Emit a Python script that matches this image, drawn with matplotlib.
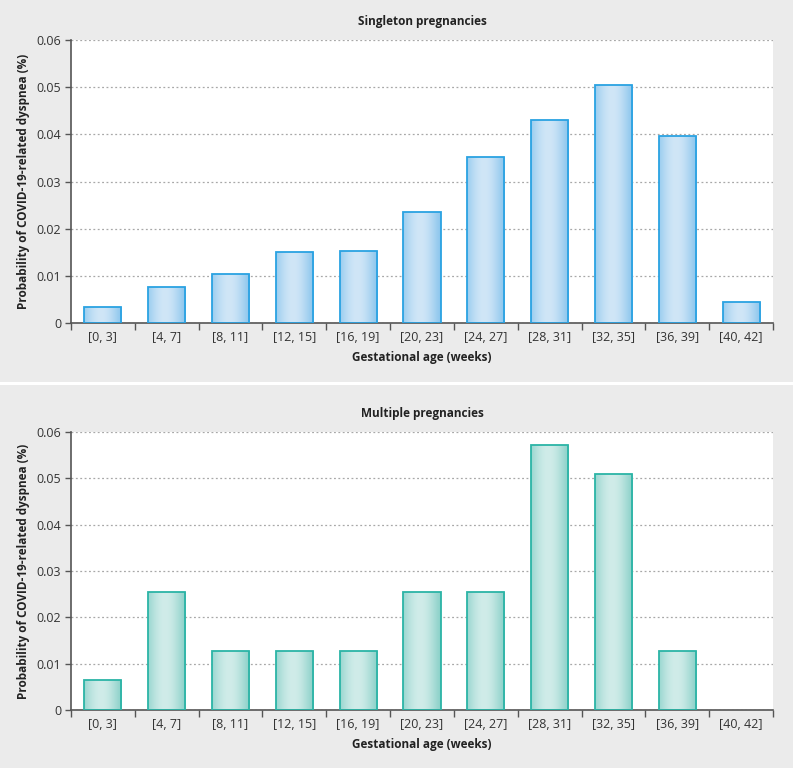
import numpy as np
import matplotlib
matplotlib.use('Agg')
import matplotlib.pyplot as plt
from matplotlib.patches import Rectangle
from matplotlib.colors import to_rgb

plt.rcParams['font.family'] = ['Open Sans', 'DejaVu Sans']

# data
weeks = ['[0, 3]', '[4, 7]', '[8, 11]', '[12, 15]', '[16, 19]', '[20, 23]',
         '[24, 27]', '[28, 31]', '[32, 35]', '[36, 39]', '[40, 42]']
singleton = [0.0034, 0.0076, 0.0104, 0.0151, 0.0153, 0.0235,
             0.0352, 0.0430, 0.0505, 0.0396, 0.0044]
multiple = [0.0064, 0.0255, 0.0128, 0.0128, 0.0128, 0.0255,
            0.0255, 0.0573, 0.0510, 0.0128, 0.0]

W, H = 793, 768
fig = plt.figure(figsize=(W / 100, H / 100), dpi=100, facecolor='white')

# grey panel boxes
fig.patches.append(Rectangle((0, 1 - 382 / H), 1, 382 / H, transform=fig.transFigure,
                             facecolor='#ebebeb', edgecolor='none', zorder=-5))
fig.patches.append(Rectangle((0, 0), 1, 1 - 385 / H, transform=fig.transFigure,
                             facecolor='#ebebeb', edgecolor='none', zorder=-5))


def gradient(edge, mid, n=64):
    t = np.linspace(0, 1, n)
    prof = np.clip(np.cos((t - 0.45) / 0.55 * np.pi / 2), 0, 1) ** 1.2
    e = np.array(to_rgb(edge))
    m = np.array(to_rgb(mid))
    return (e + (m - e) * prof[:, None])[None, :, :]


def panel(rect, vals, title, edge, fill_edge, fill_mid):
    ax = fig.add_axes(rect)
    ax.set_facecolor('white')
    x = np.arange(len(vals))
    bars = ax.bar(x, vals, width=0.58, facecolor='none', edgecolor=edge,
                  linewidth=1.3, zorder=3)
    grad = gradient(fill_edge, fill_mid)
    for b, v in zip(bars, vals):
        if v <= 0:
            b.set_visible(False)
            continue
        x0 = b.get_x()
        im = ax.imshow(grad, extent=[x0, x0 + b.get_width(), 0, v],
                       aspect='auto', zorder=2, interpolation='bilinear')
        im.set_clip_path(b)

    ax.set_xlim(-0.5, len(vals) - 0.5)
    ax.set_ylim(0, 0.06)
    ax.set_yticks(np.arange(0, 0.061, 0.01))
    ax.set_yticklabels(['0', '0.01', '0.02', '0.03', '0.04', '0.05', '0.06'])
    ax.set_xticks(np.arange(-0.5, len(vals)), labels=[])
    ax.set_xticks(x, labels=weeks, minor=True)
    ax.tick_params(axis='x', which='minor', length=0, pad=6, labelsize=9,
                   labelcolor='#333333')
    ax.tick_params(axis='x', which='major', length=5, width=1, color='#555555')
    ax.tick_params(axis='y', length=4, width=1, color='#555555', labelsize=9,
                   labelcolor='#333333', pad=3)
    ax.grid(axis='y', linestyle=(0, (1.5, 2)), color='#a8a8a8', linewidth=0.9, zorder=1)
    ax.set_axisbelow(True)
    for s in ['top', 'right']:
        ax.spines[s].set_visible(False)
    for s in ['left', 'bottom']:
        ax.spines[s].set_color('#555555')
        ax.spines[s].set_linewidth(1.2)
    ax.set_title(title, fontsize=8.5, fontweight='bold', color='#222222', pad=11)
    ax.set_xlabel('Gestational age (weeks)', fontsize=8.5, fontweight='bold',
                  color='#222222', labelpad=5)
    ax.set_ylabel('Probability of COVID-19-related dyspnea (%)', fontsize=8.5,
                  fontweight='bold', color='#222222', labelpad=5)
    return ax


panel([71 / W, 1 - 323 / H, 702 / W, 283 / H], singleton, 'Singleton pregnancies',
      '#2aa2e2', '#8cc6ed', '#d0e6f7')
panel([71 / W, 1 - 710 / H, 702 / W, 278 / H], multiple, 'Multiple pregnancies',
      '#2bb4a6', '#8bd1c9', '#d0ece9')

fig.savefig('out.png', dpi=100, facecolor='white')
